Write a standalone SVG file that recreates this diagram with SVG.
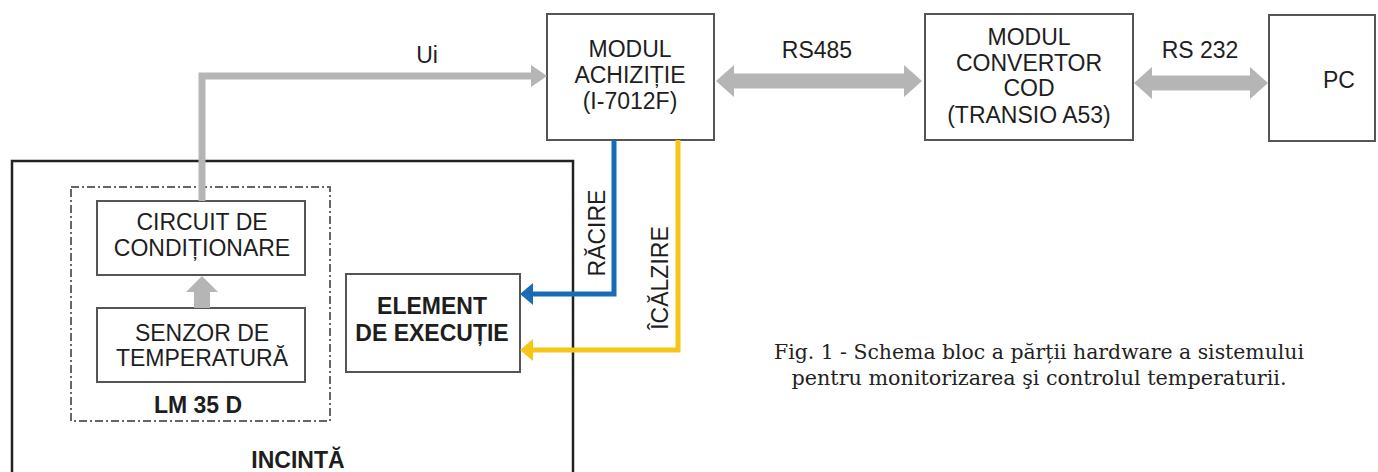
<svg xmlns="http://www.w3.org/2000/svg" width="1378" height="472" viewBox="0 0 1378 472">
<style>
.box{fill:#fff;stroke:#555;stroke-width:2}
.t{font-family:"Liberation Sans",Arial,sans-serif;font-size:23px;fill:#1e1e1e;text-anchor:middle}
.b{font-weight:bold}
.cap{font-family:"DejaVu Serif","Liberation Serif",serif;font-size:20px;fill:#222;text-anchor:middle}
.gray{fill:#b5b5b5}
</style>
<rect width="1378" height="472" fill="#fff"/>
<g id="incinta">
<rect x="12" y="161" width="561" height="330" fill="none" stroke="#222" stroke-width="2.5"/>
<text class="t b" x="298" y="468">INCINTĂ</text>
</g>
<g id="lm35">
<rect x="71" y="187" width="259" height="234" fill="none" stroke="#666" stroke-width="2" stroke-dasharray="8 3 2 3"/>
<text class="t b" x="198" y="413">LM 35 D</text>
</g>
<g id="circuit">
<rect class="box" x="97" y="201" width="208" height="74"/>
<text class="t" x="202" y="230">CIRCUIT DE</text>
<text class="t" x="202" y="256">CONDIȚIONARE</text>
</g>
<g id="senzor">
<rect class="box" x="97" y="308" width="208" height="74"/>
<text class="t" x="202" y="341">SENZOR DE</text>
<text class="t" x="202" y="366">TEMPERATURĂ</text>
</g>
<g id="element">
<rect class="box" x="346" y="274" width="174" height="98"/>
<text class="t b" x="432" y="314">ELEMENT</text>
<text class="t b" x="432" y="341">DE EXECUȚIE</text>
</g>
<g id="achizitie">
<rect class="box" x="547" y="14" width="167" height="126"/>
<text class="t" x="630" y="57">MODUL</text>
<text class="t" x="630" y="83">ACHIZIȚIE</text>
<text class="t" x="630" y="109">(I-7012F)</text>
</g>
<g id="convertor">
<rect class="box" x="925" y="14" width="208" height="126"/>
<text class="t" x="1029" y="45">MODUL</text>
<text class="t" x="1029" y="71">CONVERTOR</text>
<text class="t" x="1029" y="96">COD</text>
<text class="t" x="1029" y="123">(TRANSIO A53)</text>
</g>
<g id="pc">
<rect class="box" x="1269" y="15" width="106" height="126"/>
<text class="t" x="1339" y="88">PC</text>
</g>
<g id="connectors">
<polyline points="202,201 202,76 533,76" fill="none" stroke="#b5b5b5" stroke-width="7"/>
<polygon class="gray" points="531,65 547,76 531,87"/>
<text class="t" x="427" y="63">Ui</text>
<polygon class="gray" points="202,276 218,292 210,292 210,308 194,308 194,292 186,292"/>
<polygon class="gray" points="716,81 734,65 734,73.5 904,73.5 904,65 922,81 904,97 904,88.5 734,88.5 734,97"/>
<text class="t" x="817" y="58">RS485</text>
<polygon class="gray" points="1134,83 1152,67 1152,75.5 1250,75.5 1250,67 1268,83 1250,99 1250,90.5 1152,90.5 1152,99"/>
<text class="t" x="1200" y="58">RS 232</text>
<polyline points="614,140 614,294 532,294" fill="none" stroke="#1a6db5" stroke-width="5"/>
<polygon fill="#1a6db5" points="533,283 520,294 533,305"/>
<polyline points="678,140 678,350 532,350" fill="none" stroke="#f5c518" stroke-width="5"/>
<polygon fill="#f5c518" points="533,339 520,350 533,361"/>
<text class="t" transform="translate(605,233) rotate(-90)">RĂCIRE</text>
<text class="t" transform="translate(668,278) rotate(-90)">ÎCĂLZIRE</text>
</g>
<g id="caption">
<text class="cap" x="1039" y="359" textLength="530" lengthAdjust="spacingAndGlyphs">Fig. 1 - Schema bloc a părții hardware a sistemului</text>
<text class="cap" x="1039" y="385" textLength="495" lengthAdjust="spacingAndGlyphs">pentru monitorizarea şi controlul temperaturii.</text>
</g>
</svg>
